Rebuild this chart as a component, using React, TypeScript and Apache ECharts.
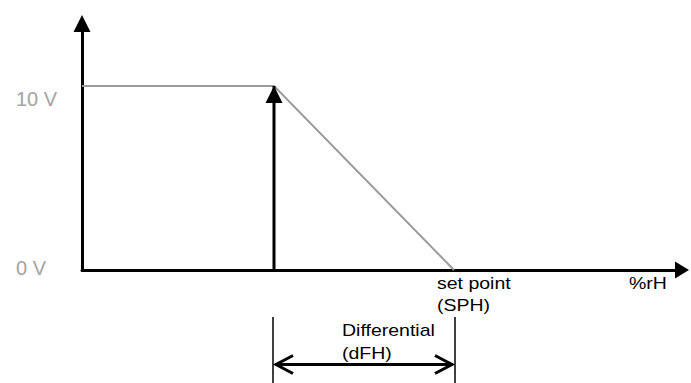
import React, { useEffect, useRef } from "react";
import * as echarts from "echarts";

// Output curve: humidity (x, arbitrary %rH units) -> output voltage (y)
const curveX = [0, 32, 62];
const curveV = [10, 10, 0];
const differentialStart = 32;
const setPoint = 62;
const xMax = 100;
const yMax = 13.4;
const yTickValues = [10, 0];
const yTickLabels = ["10 V", "0 V"];
const xAxisName = "%rH";
const setPointLabel = ["set point", "(SPH)"];
const differentialLabel = ["Differential", "(dFH)"];

const FONT = "'Liberation Sans', Arial, Helvetica, sans-serif";

export default function App() {
  const ref = useRef<HTMLDivElement>(null);

  useEffect(() => {
    if (!ref.current) return;
    const chart = echarts.init(ref.current, null, { renderer: "svg" });

    const axisCommon = {
      type: "value",
      axisTick: { show: false },
      axisLabel: { show: false },
      splitLine: { show: false },
    };

    chart.setOption({
      animation: false,
      backgroundColor: "#ffffff",
      grid: {
        left: 82,
        right: 9,
        top: 23.5,
        bottom: 113,
        containLabel: false,
        outerBoundsMode: "none",
      },
      xAxis: {
        ...axisCommon,
        min: 0,
        max: xMax,
        axisLine: {
          show: true,
          onZero: true,
          lineStyle: { color: "#000", width: 3 },
          symbol: ["none", "triangle"],
          symbolSize: [17, 14],
        },
      },
      yAxis: {
        ...axisCommon,
        min: 0,
        max: yMax,
        axisLine: {
          show: true,
          onZero: true,
          lineStyle: { color: "#000", width: 3 },
          symbol: ["none", "triangle"],
          symbolSize: [17, 17],
        },
      },
      series: [
        {
          type: "line",
          data: curveX.map((x, i) => [x, curveV[i]]),
          showSymbol: false,
          symbol: "none",
          lineStyle: { color: "#9c9c9c", width: 2 },
          z: 2,
        },
        {
          type: "line",
          data: [
            { value: [differentialStart, 0], symbol: "none" },
            {
              value: [differentialStart, curveV[1]],
              symbol: "triangle",
              symbolSize: [17, 17],
              symbolOffset: [0, 8.5],
            },
          ],
          showSymbol: true,
          lineStyle: { color: "#000", width: 3 },
          itemStyle: { color: "#000" },
          z: 3,
        },
      ],
    });

    const px = (x: number, y: number) =>
      chart.convertToPixel({ gridIndex: 0 }, [x, y]) as number[];

    const [x0] = px(differentialStart, 0);
    const [xs, y0] = px(setPoint, 0);
    const [xEnd] = px(xMax, 0);

    const blackText = (text: string, x: number, y: number) => ({
      type: "text",
      x,
      y,
      scaleX: 1.22,
      style: {
        text,
        fill: "#000",
        font: `16px ${FONT}`,
        textAlign: "left",
        textVerticalAlign: "middle",
      },
      silent: true,
    });

    const yOffsets = [13, -2.5];
    const graphics: any[] = [];

    yTickValues.forEach((v, i) => {
      const [, py] = px(0, v);
      graphics.push({
        type: "text",
        x: 16,
        y: py + yOffsets[i],
        style: {
          text: yTickLabels[i],
          fill: "#a3a3a3",
          font: `20px ${FONT}`,
          textAlign: "left",
          textVerticalAlign: "middle",
        },
        silent: true,
      });
    });

    graphics.push(blackText(setPointLabel[0], xs - 17, y0 + 13.5));
    graphics.push(blackText(setPointLabel[1], xs - 17, y0 + 36));
    graphics.push(blackText(xAxisName, xEnd - 53, y0 + 13.5));
    graphics.push(blackText(differentialLabel[0], x0 + 68, y0 + 61));
    graphics.push(blackText(differentialLabel[1], x0 + 68, y0 + 83.5));

    const lineStyle = { stroke: "#000", lineWidth: 1.5 };
    graphics.push({
      type: "line",
      shape: { x1: x0 - 1, y1: y0 + 47, x2: x0 - 1, y2: 383 },
      style: lineStyle,
      silent: true,
    });
    graphics.push({
      type: "line",
      shape: { x1: xs + 1, y1: y0 + 47, x2: xs + 1, y2: 383 },
      style: lineStyle,
      silent: true,
    });

    const ay = y0 + 94.5;
    const aL = x0 + 1;
    const aR = xs - 1;
    const arrowStyle = { stroke: "#000", lineWidth: 3, fill: "none" };
    graphics.push({
      type: "line",
      shape: { x1: aL + 1, y1: ay, x2: aR - 1, y2: ay },
      style: arrowStyle,
      silent: true,
    });
    graphics.push({
      type: "polyline",
      shape: { points: [[aL + 18, ay - 9], [aL + 1, ay], [aL + 18, ay + 9]] },
      style: arrowStyle,
      silent: true,
    });
    graphics.push({
      type: "polyline",
      shape: { points: [[aR - 18, ay - 9], [aR - 1, ay], [aR - 18, ay + 9]] },
      style: arrowStyle,
      silent: true,
    });

    chart.setOption({ graphic: graphics });

    return () => chart.dispose();
  }, []);

  return (
    <div
      ref={ref}
      style={{
        position: "fixed",
        left: 0,
        top: 0,
        width: 691,
        height: 383,
        background: "#fff",
      }}
    />
  );
}
